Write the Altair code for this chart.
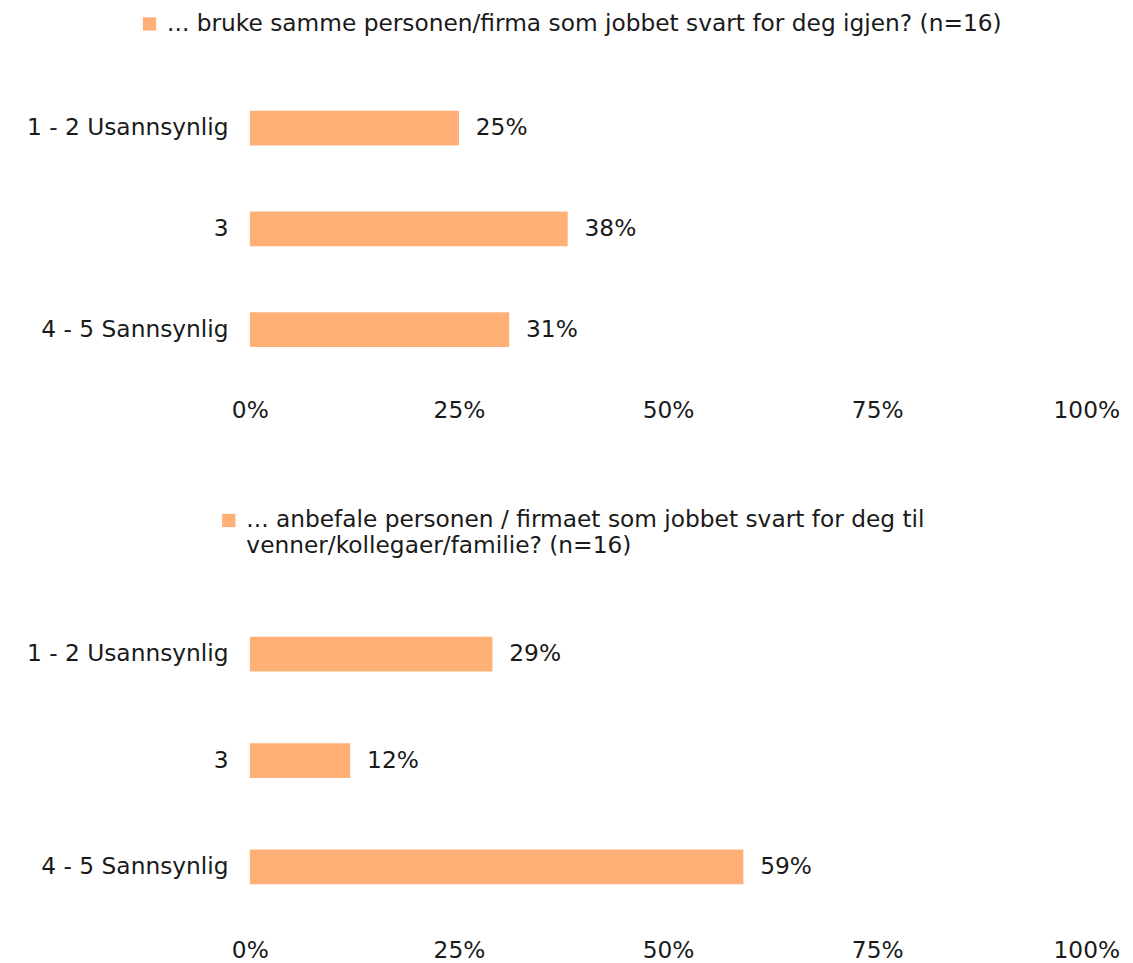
import altair as alt
import pandas as pd

categories = ["1 - 2 Usannsynlig", "3", "4 - 5 Sannsynlig"]
series1_name = "... bruke samme personen/firma som jobbet svart for deg igjen? (n=16)"
series1_values = [25, 38, 31]
series2_name = "... anbefale personen / firmaet som jobbet svart for deg til venner/kollegaer/familie? (n=16)"
series2_line1 = "... anbefale personen / firmaet som jobbet svart for deg til"
series2_line2 = "venner/kollegaer/familie? (n=16)"
series2_values = [29, 12, 59]
x_ticks = [0, 25, 50, 75, 100]

FONT = "DejaVu Sans"
FS = 23.5
COLOR = "#FFB077"
TXT = "#1a1a1a"

df1 = pd.DataFrame({"cat": categories, "val": series1_values, "series": series1_name})
df2 = pd.DataFrame({"cat": categories, "val": series2_values, "series": series2_name})


def panel(df, height, legend_x, legend_y, label_expr=None):
    leg = dict(orient="none", legendX=legend_x, legendY=legend_y, title=None,
               symbolType="square", symbolSize=180, labelFont=FONT, labelFontSize=FS,
               labelColor=TXT, labelLimit=1200, symbolStrokeWidth=0, labelOffset=6)
    if label_expr:
        leg["labelExpr"] = label_expr
    base = alt.Chart(df).encode(
        y=alt.Y("cat:N", sort=categories, title=None,
                axis=alt.Axis(domain=False, ticks=False, labelFont=FONT, labelFontSize=FS,
                              labelColor=TXT, labelPadding=22, minExtent=237, maxExtent=237,
                              labelLimit=300)),
        x=alt.X("val:Q", title=None, scale=alt.Scale(domain=[0, 100], nice=False),
                axis=alt.Axis(values=x_ticks, labelExpr="datum.value + '%'", domain=False,
                              ticks=False, grid=False, labelFont=FONT, labelFontSize=FS,
                              labelColor=TXT, labelPadding=19, labelFlush=False)),
    )
    bars = base.mark_bar(size=35).encode(
        color=alt.Color("series:N", scale=alt.Scale(range=[COLOR]), legend=alt.Legend(**leg))
    )
    text = base.transform_calculate(lbl="datum.val + '%'").mark_text(
        align="left", dx=17, font=FONT, fontSize=FS, color=TXT
    ).encode(text="lbl:N")
    return (bars + text).properties(width=844, height=height)


p1 = panel(df1, 305, -113, -66)
p2 = panel(df2, 322, -33, -93,
           label_expr=f"datum.label == '{series2_name}' ? ['{series2_line1}', '{series2_line2}'] : datum.label")

chart = alt.vconcat(p1, p2, spacing=87).resolve_scale(color="independent").resolve_legend(
    color="independent"
).properties(padding={"top": 0, "left": 7, "right": 5, "bottom": 5}).configure_view(stroke=None)

chart.save("out.html", embed_options={"renderer": "svg", "actions": False})
